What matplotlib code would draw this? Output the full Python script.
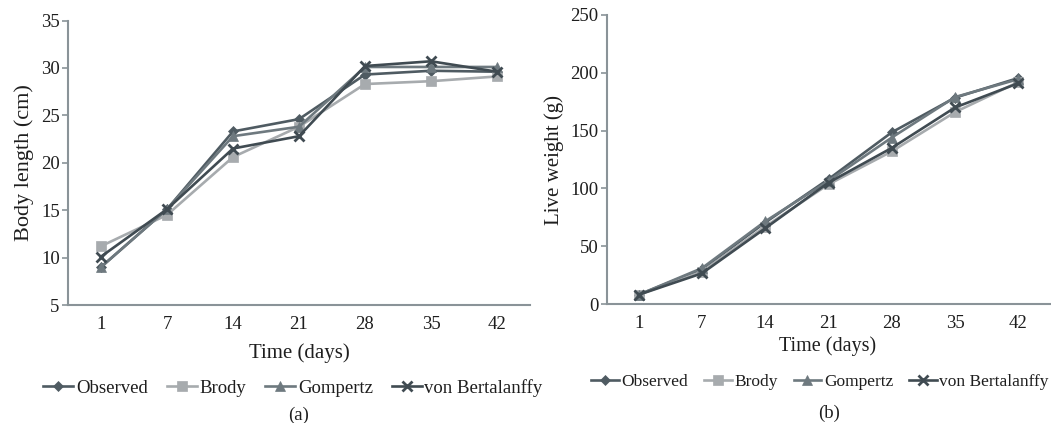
import matplotlib
matplotlib.use("Agg")
import matplotlib.pyplot as plt
import numpy as np

plt.rcParams['font.family'] = ['Liberation Serif', 'DejaVu Serif']

days = ["1", "7", "14", "21", "28", "35", "42"]

# (a) Body length (cm)
len_observed = [9.0, 15.1, 23.3, 24.6, 29.3, 29.7, 29.6]
len_brody = [11.2, 14.5, 20.6, 23.8, 28.3, 28.6, 29.1]
len_gompertz = [9.0, 15.1, 22.8, 23.8, 30.1, 30.1, 30.1]
len_bertalanffy = [10.1, 15.1, 21.5, 22.8, 30.2, 30.7, 29.6]

# (b) Live weight (g)
wt_observed = [8, 30, 70.5, 108, 148.5, 178.5, 195.5]
wt_brody = [8, 28, 67, 103.5, 132, 166, 192]
wt_gompertz = [8, 31, 71.5, 106.5, 144, 179, 194.5]
wt_bertalanffy = [8, 26.5, 65.5, 105, 135, 170, 191]

series_names = ["Observed", "Brody", "Gompertz", "von Bertalanffy"]
colors = ["#4f5b62", "#a7abae", "#6e797f", "#404b52"]
markers = ["D", "s", "^", "x"]
msizes = [5.5, 6.5, 6.5, 7]

axis_color = "#8a9398"
text_color = "#1e1e1e"

fig = plt.figure(figsize=(10.51, 4.23), dpi=100)
axA = fig.add_axes([68/1051, 1-305/423, (530-68)/1051, (305-20.5)/423])
axB = fig.add_axes([607/1051, 1-304/423, (1050-607)/1051, (304-15)/423])

x = np.arange(len(days))

def draw(ax, data, ylim, yticks, ylabel, ylab_size):
    for vals, name, c, m, ms in zip(data, series_names, colors, markers, msizes):
        ax.plot(x, vals, color=c, marker=m, markersize=ms, linewidth=1.9,
                markeredgewidth=2 if m == "x" else 0.5, markeredgecolor=c,
                label=name)
    ax.set_xlim(-0.5, len(days) - 0.5)
    ax.set_ylim(*ylim)
    ax.set_yticks(yticks)
    ax.set_xticks(x)
    ax.set_xticklabels(days)
    for s in ["top", "right"]:
        ax.spines[s].set_visible(False)
    for s in ["left", "bottom"]:
        ax.spines[s].set_color(axis_color)
        ax.spines[s].set_linewidth(1.5)
    ax.tick_params(axis="y", direction="out", length=4, width=1.2,
                   color=axis_color, labelsize=13.5, pad=2, labelcolor=text_color)
    ax.tick_params(axis="x", length=0, labelsize=13.5, pad=8, labelcolor=text_color)
    ax.set_ylabel(ylabel, fontsize=ylab_size, color=text_color, labelpad=5)

draw(axA, [len_observed, len_brody, len_gompertz, len_bertalanffy],
     (5, 35), range(5, 36, 5), "Body length (cm)", 16)
draw(axB, [wt_observed, wt_brody, wt_gompertz, wt_bertalanffy],
     (0, 250), range(0, 251, 50), "Live weight (g)", 15)

fig.text(299/1051, 1-353/423, "Time (days)", ha="center", va="center",
         fontsize=15, color=text_color)
fig.text(828/1051, 1-346/423, "Time (days)", ha="center", va="center",
         fontsize=14.5, color=text_color)

legA = axA.legend(loc="center", bbox_to_anchor=(293/1051, 1-388/423),
                  bbox_transform=fig.transFigure, ncol=4, frameon=False,
                  fontsize=13.5, handlelength=1.6, handletextpad=0.15,
                  columnspacing=1.0, borderaxespad=0)
legB = axB.legend(loc="center", bbox_to_anchor=(820/1051, 1-382/423),
                  bbox_transform=fig.transFigure, ncol=4, frameon=False,
                  fontsize=12.5, handlelength=1.6, handletextpad=0.15,
                  columnspacing=0.9, borderaxespad=0)
for leg in (legA, legB):
    for t in leg.get_texts():
        t.set_color(text_color)

fig.text(299/1051, 1-415/423, "(a)", ha="center", va="center", fontsize=13.5,
         color=text_color)
fig.text(829/1051, 1-413/423, "(b)", ha="center", va="center", fontsize=13.5,
         color=text_color)

fig.savefig("out.png", dpi=100)
